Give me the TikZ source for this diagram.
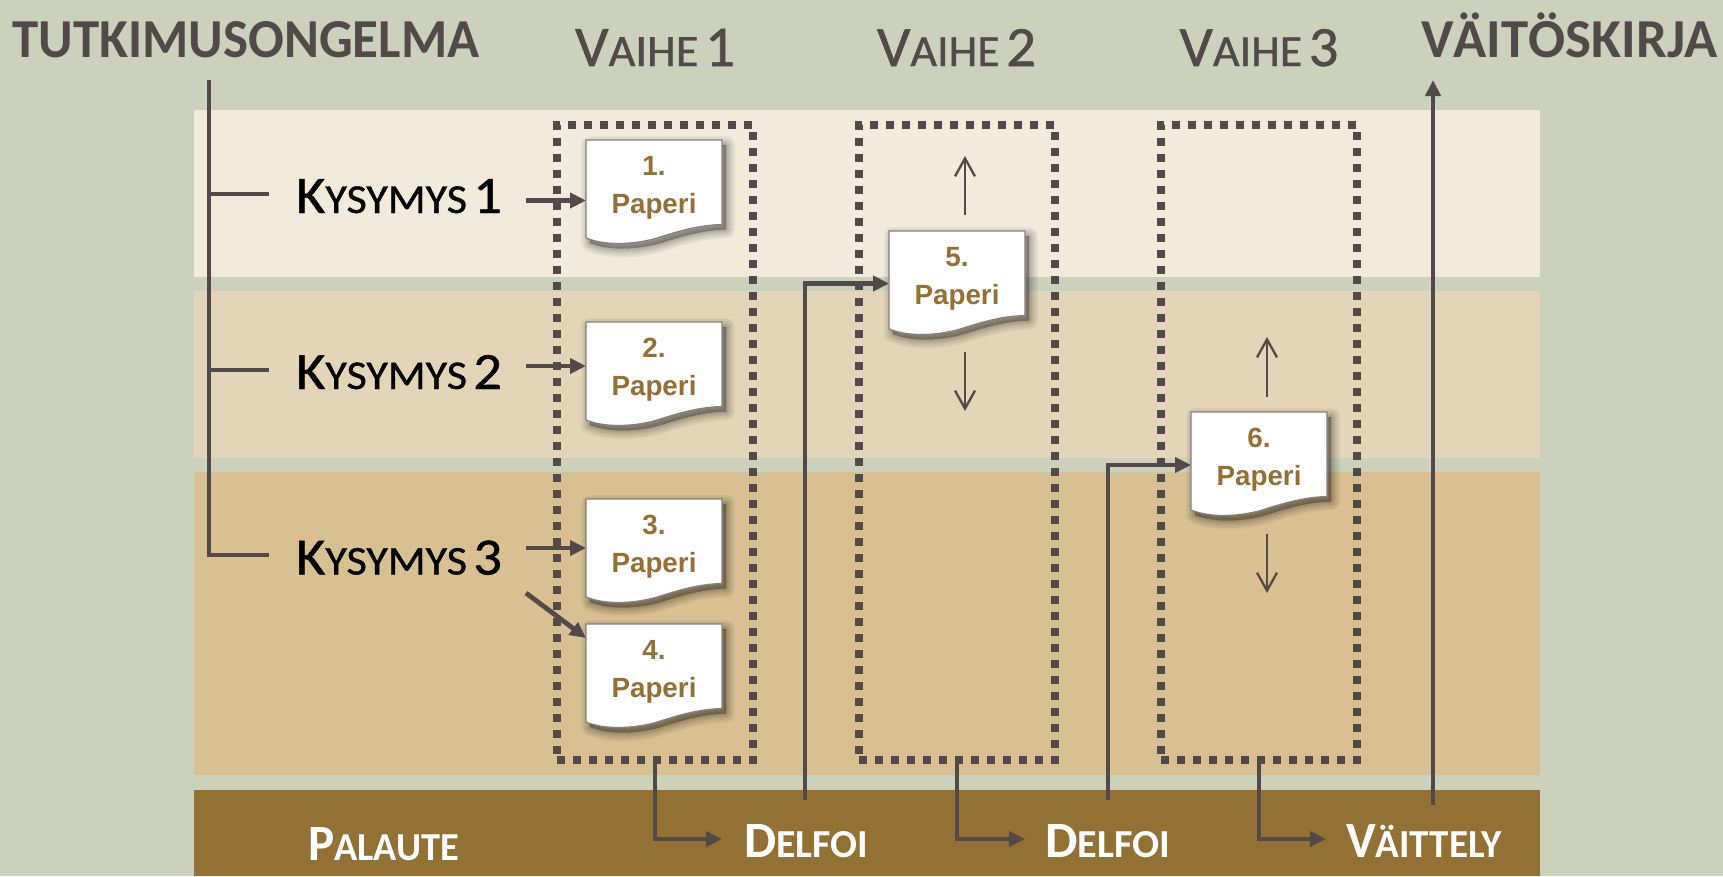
\documentclass[tikz,border=0pt]{standalone}
\usepackage{fontspec}
\usepackage{graphicx}
\usetikzlibrary{arrows.meta}
\setmainfont{Carlito}
\newfontfamily\midfont[FakeBold=0.9]{Carlito}
\newfontfamily\docfont{Liberation Sans}
\definecolor{bgc}{HTML}{CBD1BA}
\definecolor{bandA}{HTML}{F2EBDB}
\definecolor{bandB}{HTML}{E4D5B8}
\definecolor{bandC}{HTML}{D8C092}
\definecolor{bandD}{HTML}{937033}
\definecolor{ink}{HTML}{524949}
\newcommand{\SCt}[2]{{\fontsize{50}{50}\selectfont #1}{\fontsize{39}{39}\selectfont #2}}
\newcommand{\SCn}[3]{\midfont\SCt{#1}{#2}\hspace{.55em}{\fontsize{50}{50}\selectfont #3}}
\tikzset{
  band/.style={fill=#1,draw=none},
  dotbox/.style={draw=ink,line width=8pt,dash pattern=on 8pt off 8pt,minimum width=196pt,minimum height=635pt,inner sep=0pt,fill=none},
  strong/.style={draw=ink,line width=4.8pt},
  arrowed/.style={strong,-{Triangle[length=16pt,width=15pt]}},
  thinarrow/.style={draw=ink,line width=2.3pt,-{Straight Barb[length=18pt,width=20pt]}},
  lbl/.style={anchor=base west,inner sep=0pt,outer sep=0pt},
  docbox/.style={minimum width=136pt,minimum height=104pt,inner sep=0pt,outer sep=0pt},
  doctext/.style={align=center,inner sep=0pt,text=bandD,font=\docfont\bfseries\fontsize{27.8}{38}\selectfont}
}
\newcommand{\docpath}{(0,0) -- (136,0) -- (136,84.5) .. controls (112,85) and (90,92) .. (71,98) .. controls (58,102) and (25,108) .. (0,98) -- cycle}
\newcommand{\docpic}[4]{%
  \begin{scope}[shift={(#2,#3)}]
    \foreach \w in {18,15,12,9,7,5,3,1}{\draw[black,fill=black,opacity=.04,line width=\w pt,line join=round,shift={(4,5)}] \docpath;}
    \draw[fill=white,draw=ink!70,line width=1.2pt] \docpath;
  \end{scope}
  \node[docbox] (#1) at (#2+68,#3+52) {};
  \node[doctext] (#1t) at (#2+68,#3+47.5) {#4.\\Paperi};
}
\begin{document}
\begin{tikzpicture}[x=1pt,y=-1pt]
\useasboundingbox (0,0) rectangle (1723,876);
\fill[bgc] (0,0) rectangle (1723,876);
\fill[band=bandA] (194,110) rectangle (1540,277);
\fill[band=bandB] (194,291) rectangle (1540,458);
\fill[band=bandC] (194,472) rectangle (1540,775);
\fill[band=bandD] (194,790) rectangle (1540,876);

\node[dotbox] (b1) at (655,442.5) {};
\node[dotbox] (b2) at (957,442.5) {};
\node[dotbox] (b3) at (1259,442.5) {};

% titles
\node[lbl,text=ink] (tutk) at (12.5,57) {\resizebox{467pt}{36pt}{\textbf{TUTKIMUSONGELMA}}};
\node[lbl,text=ink] (vait) at (1421,57) {\resizebox{296pt}{36pt}{\textbf{V\smash{Ä}IT\smash{Ö}SKIRJA}}};
\node[lbl,text=ink] (v1) at (575,66) {\resizebox{160pt}{37pt}{\SCn{V}{AIHE}{1}}};
\node[lbl,text=ink] (v2) at (877,66) {\resizebox{159pt}{37pt}{\SCn{V}{AIHE}{2}}};
\node[lbl,text=ink] (v3) at (1179.5,66) {\resizebox{159pt}{37pt}{\SCn{V}{AIHE}{3}}};

% questions
\node[lbl,text=black] (k1) at (296,213) {\resizebox{206pt}{34pt}{\SCn{K}{YSYMYS}{1}}};
\node[lbl,text=black] (k2) at (296,389) {\resizebox{206pt}{34pt}{\SCn{K}{YSYMYS}{2}}};
\node[lbl,text=black] (k3) at (296,574.5) {\resizebox{206pt}{34pt}{\SCn{K}{YSYMYS}{3}}};

% bottom labels
\node[lbl,text=white] (pal) at (308,860) {\resizebox{151pt}{33pt}{\textbf{\SCt{P}{ALAUTE}}}};
\node[lbl,text=white] (de1) at (744,857) {\resizebox{124pt}{33pt}{\textbf{\SCt{D}{ELFOI}}}};
\node[lbl,text=white] (de2) at (1045,857) {\resizebox{125pt}{33pt}{\textbf{\SCt{D}{ELFOI}}}};
\node[lbl,text=white] (vte) at (1346,857) {\resizebox{156pt}{33pt}{\textbf{\SCt{V}{\smash{Ä}ITTELY}}}};

% free ends
\coordinate (top) at (209,80);
\coordinate (j1) at (209,194);
\coordinate (j2) at (209,370);
\coordinate (j3) at (209,555);
\coordinate (s1) at (526,200.5);
\coordinate (s2) at (526,366);
\coordinate (s3) at (526,548);
\coordinate (s4) at (526,593);
\coordinate (e4) at (586,638);
\coordinate (u1) at (805,800);
\coordinate (u2) at (1108,800);
\coordinate (u3) at (1433,805);
\coordinate (in5) at (889,283.5);
\coordinate (in6) at (1191,465);
\coordinate (vaitend) at (1433,80);
\coordinate (f1) at (722,839);
\coordinate (f2) at (1025,839);
\coordinate (f3) at (1326,839);

% left tree
\draw[strong] (top) -- (j3) -- (269,555);
\draw[strong] (j1) -- (269,194);
\draw[strong] (j2) -- (269,370);

% long connectors
\draw[arrowed] (b1.south) |- (f1);
\draw[arrowed] (b2.south) |- (f2);
\draw[arrowed] (b3.south) |- (f3);
\draw[arrowed] (u1) |- (in5);
\draw[arrowed] (u2) |- (in6);
\draw[arrowed] (u3) -- (vaitend);

% documents
\docpic{d1}{586}{140}{1}
\docpic{d2}{586}{322}{2}
\docpic{d3}{586}{499}{3}
\docpic{d4}{586}{624}{4}
\docpic{d5}{889}{231}{5}
\docpic{d6}{1191}{412}{6}

\draw[arrowed] (s1) -- (d1.west |- s1);
\draw[arrowed] (s2) -- (d2.west |- s2);
\draw[arrowed] (s3) -- (d3.west |- s3);
\draw[arrowed] (s4) -- (e4);

% thin arrows
\coordinate (t1) at (965,215); \coordinate (t1e) at (965,156);
\coordinate (t2) at (965,352); \coordinate (t2e) at (965,411);
\coordinate (t3) at (1267,397); \coordinate (t3e) at (1267,337);
\coordinate (t4) at (1267,534); \coordinate (t4e) at (1267,593);
\draw[thinarrow] (t1) -- (t1e);
\draw[thinarrow] (t2) -- (t2e);
\draw[thinarrow] (t3) -- (t3e);
\draw[thinarrow] (t4) -- (t4e);
\end{tikzpicture}
\end{document}
